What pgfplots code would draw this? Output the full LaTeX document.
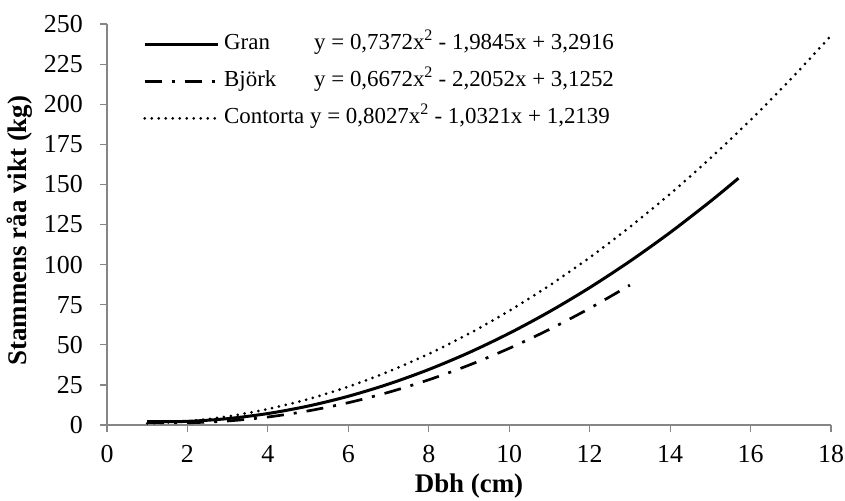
\documentclass[border=0pt]{standalone}
\usepackage{pgfplots}
\pgfplotsset{compat=1.18}
\usepackage{fontspec}
\setmainfont{Liberation Serif}
\definecolor{axgray}{RGB}{134,134,134}
\begin{document}
\begin{tikzpicture}
\begin{axis}[
  scale only axis, width=724bp, height=401bp,
  xmin=0, xmax=18, ymin=0, ymax=250,
  xtick={0,2,...,18}, ytick={0,25,...,250},
  axis lines*=left,
  axis line style={axgray, line width=1.2bp},
  tick style={axgray, line width=1.2bp},
  tick align=outside, major tick length=7bp,
  /pgf/number format/assume math mode=true,
  ticklabel style={font=\fontsize{26}{30}\selectfont, inner sep=0pt},
  yticklabel style={anchor=east, xshift=-17bp},
  xticklabel style={anchor=north, yshift=-13bp},
  xlabel={\textbf{Dbh (cm)}},
  ylabel={\textbf{Stammens råa vikt (kg)}},
  label style={font=\fontsize{27}{31}\selectfont},
  xlabel style={at={(axis description cs:0.5,-0.1122)}, anchor=north},
  ylabel style={at={(axis description cs:-0.098,0.485)}, anchor=south},
  legend cell align=left,
  legend style={draw=none, fill=none, at={(axis description cs:0.0497,0.976)}, anchor=north west,
    font=\fontsize{23}{27}\selectfont, row sep=16bp, column sep=5bp, inner sep=0pt,
    nodes={inner sep=0pt, text height=16bp, text depth=5bp}},
  legend image code/.code={\draw[#1] (0bp,0bp) -- (73bp,0bp);},
]
\addplot[black, line width=3bp, smooth] coordinates {
(1,2.0443) (2,2.2714) (3,3.9729) (4,7.1488) (5,11.7991) (6,17.9238) (7,25.5229)
(8,34.5964) (9,45.1443) (10,57.1666) (11,70.6633) (12,85.6344) (13,102.0799)
(14,119.9998) (15,139.3941) (15.7,153.8473)};
\addlegendentry{\makebox[90bp][l]{Gran}y = 0,7372x\textsuperscript{2} - 1,9845x + 3,2916}
\addplot[black, line width=2.7bp, smooth, dash pattern=on 17bp off 10bp on 3bp off 10bp] coordinates {
(1,1.5872) (2,1.3836) (3,2.5144) (4,4.9796) (5,8.7792) (6,13.9132) (7,20.3816)
(8,28.1844) (9,37.3216) (10,47.7932) (11,59.5992) (12,72.7396) (13,87.2144)};
\addlegendentry{\makebox[90bp][l]{Björk}y = 0,6672x\textsuperscript{2} - 2,2052x + 3,1252}
\addplot[black, line width=3bp, smooth, line cap=round, dash pattern=on 0bp off 7bp] coordinates {
(1,0.9845) (2,2.3605) (3,5.3419) (4,9.9287) (5,16.1209) (6,23.9185) (7,33.3215)
(8,44.3299) (9,56.9437) (10,71.1629) (11,86.9875) (12,104.4175) (13,123.4529)
(14,144.0937) (15,166.3399) (16,190.1915) (17,215.6485) (18,242.7109)};
\addlegendentry{Contorta y = 0,8027x\textsuperscript{2} - 1,0321x + 1,2139}
\end{axis}
\pgfresetboundingbox
\path ([xshift=-107bp,yshift=-76bp]current axis.south west) rectangle ([xshift=14bp,yshift=24bp]current axis.north east);
\end{tikzpicture}
\end{document}
